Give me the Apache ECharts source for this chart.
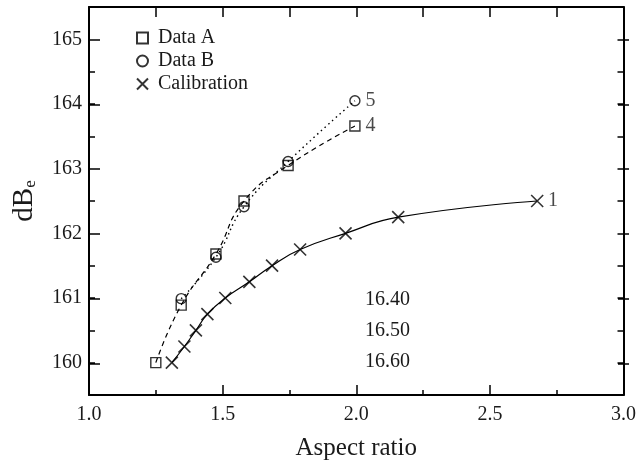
<!DOCTYPE html>
<html>
<head>
<meta charset="utf-8">
<script src="https://cdn.jsdelivr.net/npm/echarts@6/dist/echarts.min.js"></script>
<style>
html, body { margin: 0; padding: 0; background: #fff; }
#chart { width: 639px; height: 466px; }
</style>
</head>
<body>
<div id="chart"></div>
<script>
// data
var aX = [1.25, 1.345, 1.475, 1.58, 1.745, 1.995];
var aY = [160.0, 160.89, 161.68, 162.5, 163.05, 163.66];
var bX = [1.345, 1.475, 1.58, 1.745, 1.995];
var bY = [160.99, 161.63, 162.41, 163.11, 164.05];
var cX = [1.31, 1.357, 1.40, 1.443, 1.51, 1.60, 1.685, 1.79, 1.96, 2.157, 2.677];
var cY = [160.0, 160.25, 160.5, 160.75, 161.0, 161.25, 161.5, 161.75, 162.0, 162.25, 162.5];
var endLabels = ['4', '5', '1'];
var notes = ['16.40', '16.50', '16.60'];
var yTicks = [160, 161, 162, 163, 164, 165];

var FONT = 'Liberation Serif';
var INK = '#1a1a1a';

function pairs(xs, ys, tag) {
    return xs.map(function (x, i) {
        if (tag && i === xs.length - 1) {
            return { value: [x, ys[i]], label: { show: true, formatter: tag } };
        }
        return [x, ys[i]];
    });
}

var myChart = echarts.init(document.getElementById('chart'));

var crossPath = 'path://M0,0L10,10M10,0L0,10';
var box = { left: 89, right: 10, top: 7, bottom: 70 };

var option = {
    animation: false,
    backgroundColor: '#fff',
    grid: [
        { left: box.left, right: box.right, top: box.top, bottom: box.bottom },
        { left: box.left, right: box.right, top: box.top, bottom: box.bottom }
    ],
    legend: {
        orient: 'vertical',
        left: 131,
        top: 23,
        itemWidth: 11,
        itemHeight: 11,
        itemGap: 3,
        data: ['Data A', 'Data B', 'Calibration'],
        textStyle: { fontFamily: FONT, fontSize: 20, color: INK, padding: [0, 0, 0, 5] }
    },
    xAxis: [
        {
            type: 'value', gridIndex: 0, position: 'bottom',
            min: 1, max: 3, interval: 0.5,
            name: 'Aspect ratio', nameLocation: 'middle', nameGap: 41,
            nameTextStyle: { fontFamily: FONT, fontSize: 25, color: INK },
            axisLine: { lineStyle: { color: '#000', width: 2 } },
            axisTick: { inside: true, length: 10, lineStyle: { color: '#000', width: 1.5 } },
            minorTick: { show: true, splitNumber: 2, length: 5, lineStyle: { color: '#000', width: 1.5 } },
            axisLabel: {
                fontFamily: FONT, fontSize: 20, color: INK, margin: 10,
                showMinLabel: true, showMaxLabel: true,
                formatter: function (v) { return v.toFixed(1); }
            },
            splitLine: { show: false }
        },
        {
            type: 'value', gridIndex: 0, position: 'top',
            min: 1, max: 3, interval: 0.25,
            axisLine: { lineStyle: { color: '#000', width: 2 } },
            axisTick: { inside: true, length: 10, lineStyle: { color: '#000', width: 1.5 } },
            axisLabel: { show: false },
            splitLine: { show: false }
        },
        {
            type: 'value', gridIndex: 1, min: 1, max: 3, show: false
        }
    ],
    yAxis: [
        {
            type: 'value', gridIndex: 0, position: 'left',
            min: 159.5, max: 165.5, interval: 0.5,
            name: 'dB{s|e}', nameLocation: 'middle', nameRotate: 90, nameGap: 50,
            nameTextStyle: {
                fontFamily: FONT, fontSize: 29, color: INK,
                rich: { s: { fontFamily: FONT, fontSize: 17, color: INK, verticalAlign: 'bottom' } }
            },
            axisLine: { lineStyle: { color: '#000', width: 2 } },
            axisTick: { inside: true, length: 6, lineStyle: { color: '#000', width: 1.5 } },
            axisLabel: {
                customValues: yTicks,
                fontFamily: FONT, fontSize: 20, color: INK, margin: 7
            },
            splitLine: { show: false }
        },
        {
            type: 'value', gridIndex: 0, position: 'right',
            min: 159.5, max: 165.5, interval: 0.5,
            axisLine: { lineStyle: { color: '#000', width: 2 } },
            axisTick: { inside: true, length: 6, lineStyle: { color: '#000', width: 1.5 } },
            axisLabel: { show: false },
            splitLine: { show: false }
        },
        {
            type: 'value', gridIndex: 1, position: 'left',
            min: 159.5, max: 165.5,
            axisLine: { show: false },
            axisTick: { customValues: yTicks, inside: true, length: 11, lineStyle: { color: '#000', width: 1.5 } },
            axisLabel: { show: false },
            splitLine: { show: false }
        },
        {
            type: 'value', gridIndex: 1, position: 'right',
            min: 159.5, max: 165.5,
            axisLine: { show: false },
            axisTick: { customValues: yTicks, inside: true, length: 11, lineStyle: { color: '#000', width: 1.5 } },
            axisLabel: { show: false },
            splitLine: { show: false }
        }
    ],
    series: [
        {
            name: 'fitA', type: 'line', smooth: true, showSymbol: false, silent: true,
            data: pairs(aX, aY),
            lineStyle: { color: '#000', width: 1.2, type: [5, 4] }
        },
        {
            name: 'fitB', type: 'line', smooth: true, showSymbol: false, silent: true,
            data: pairs(bX, bY),
            lineStyle: { color: '#000', width: 1.4, type: [1.5, 3.5] }
        },
        {
            name: 'fitC', type: 'line', smooth: true, showSymbol: false, silent: true,
            data: pairs(cX, cY),
            lineStyle: { color: '#000', width: 1.2 }
        },
        {
            name: 'Data A', type: 'scatter', symbol: 'rect', symbolSize: 10, z: 5,
            itemStyle: { color: 'rgba(0,0,0,0)', borderColor: '#000', borderWidth: 1.4 },
            label: { show: false, position: 'right', distance: 5, fontFamily: FONT, fontSize: 20, color: INK },
            data: pairs(aX, aY, endLabels[0])
        },
        {
            name: 'Data B', type: 'scatter', symbol: 'circle', symbolSize: 10, z: 5,
            itemStyle: { color: 'rgba(0,0,0,0)', borderColor: '#000', borderWidth: 1.4 },
            label: { show: false, position: 'right', distance: 5, fontFamily: FONT, fontSize: 20, color: INK },
            data: pairs(bX, bY, endLabels[1])
        },
        {
            name: 'Calibration', type: 'scatter', symbol: crossPath, symbolSize: 12, z: 5,
            itemStyle: { color: 'rgba(0,0,0,0)', borderColor: '#000', borderWidth: 1.6 },
            label: { show: false, position: 'right', distance: 4, fontFamily: FONT, fontSize: 20, color: INK },
            data: pairs(cX, cY, endLabels[2])
        }
    ],
    graphic: notes.map(function (t, i) {
        return {
            type: 'text',
            x: 365,
            y: 300 + i * 31,
            style: { text: t, font: '20px "' + FONT + '"', fill: INK, verticalAlign: 'middle' }
        };
    })
};

myChart.setOption(option);
</script>
</body>
</html>
